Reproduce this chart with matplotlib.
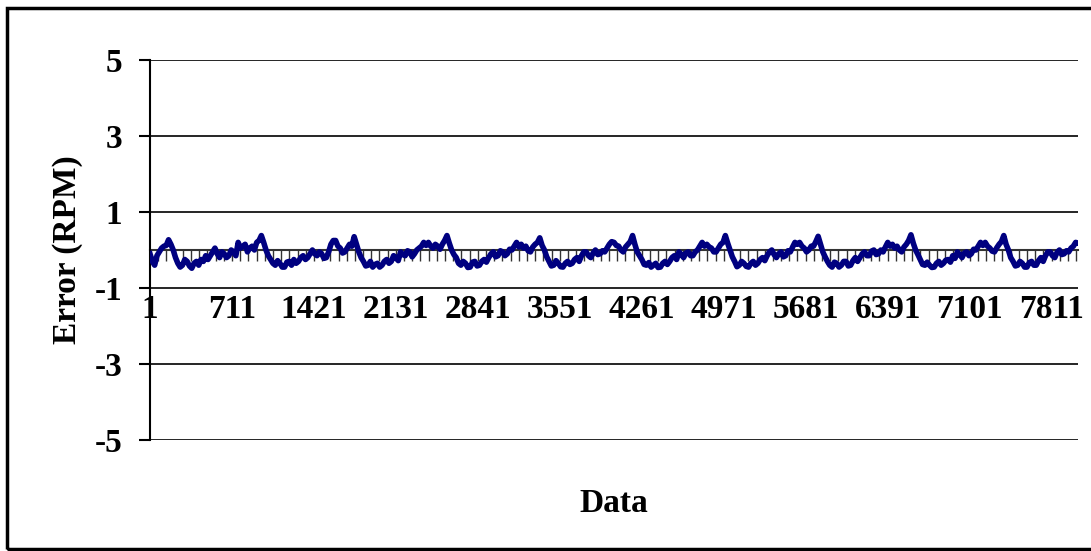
# -*- coding:utf-8 -*-
import numpy as np
import matplotlib
matplotlib.use('Agg')
import matplotlib.pyplot as plt
from matplotlib.patches import Rectangle

plt.rcParams['font.family'] = ['Liberation Serif', 'DejaVu Serif']
plt.rcParams['font.weight'] = 'bold'
plt.rcParams['axes.unicode_minus'] = False

n_points = 8040
# error (RPM), one value every ~20 samples, 10 cycles
err_p1 = [-0.10, -0.30, -0.40, -0.15, -0.05, 0.05, 0.10, 0.12, 0.27, 0.15,
          0.00, -0.20, -0.35, -0.45, -0.40, -0.25, -0.30, -0.42, -0.48, -0.35,
          -0.30, -0.40, -0.25, -0.30, -0.15, -0.25, -0.15, -0.05, 0.05, -0.10,
          -0.20, -0.05, -0.10, -0.20, -0.15, 0.00, -0.05, -0.15, 0.20, 0.05]
err_p2 = [0.10, 0.15, -0.05, 0.05, 0.10, 0.00, 0.20, 0.25, 0.38, 0.20,
          0.00, -0.15, -0.25, -0.35, -0.40, -0.28, -0.35, -0.45, -0.45, -0.32,
          -0.30, -0.40, -0.25, -0.35, -0.30, -0.20, -0.15, -0.25, -0.20, -0.10,
          0.00, -0.10, -0.15, -0.05, -0.10, -0.22, -0.20, -0.05, 0.15, 0.25]
err_p3 = [0.25, 0.10, 0.05, -0.08, -0.05, 0.05, 0.15, 0.10, 0.35, 0.15,
          -0.05, -0.20, -0.30, -0.42, -0.40, -0.30, -0.45, -0.38, -0.35, -0.45,
          -0.40, -0.30, -0.25, -0.35, -0.30, -0.15, -0.20, -0.28, -0.05, -0.12,
          -0.15, -0.02, -0.05, -0.18, -0.10, 0.00, 0.05, 0.10, 0.20, 0.12]
err_p4 = [0.20, 0.10, 0.05, 0.15, 0.10, 0.02, 0.15, 0.25, 0.38, 0.18,
          0.00, -0.12, -0.20, -0.35, -0.40, -0.30, -0.35, -0.46, -0.45, -0.32,
          -0.30, -0.42, -0.40, -0.30, -0.25, -0.32, -0.20, -0.10, -0.05, -0.18,
          -0.15, -0.02, -0.05, -0.15, -0.10, 0.02, 0.00, 0.10, 0.20, 0.08]
err_p5 = [0.15, 0.05, 0.10, -0.02, -0.05, 0.08, 0.15, 0.20, 0.32, 0.12,
          0.00, -0.18, -0.30, -0.42, -0.40, -0.28, -0.35, -0.44, -0.45, -0.35,
          -0.30, -0.38, -0.35, -0.25, -0.20, -0.30, -0.15, -0.05, -0.05, -0.15,
          -0.20, -0.08, 0.00, -0.12, -0.10, -0.02, -0.05, 0.05, 0.15, 0.22]
err_p6 = [0.20, 0.12, 0.10, 0.00, -0.05, 0.08, 0.15, 0.22, 0.38, 0.15,
          -0.05, -0.15, -0.25, -0.38, -0.40, -0.33, -0.45, -0.40, -0.35, -0.46,
          -0.45, -0.35, -0.30, -0.38, -0.30, -0.20, -0.15, -0.25, -0.05, -0.12,
          -0.20, -0.08, -0.05, -0.15, -0.15, -0.05, 0.00, 0.10, 0.20, 0.10]
err_p7 = [0.15, 0.08, 0.05, -0.05, -0.05, 0.05, 0.15, 0.20, 0.38, 0.18,
          0.00, -0.18, -0.30, -0.44, -0.40, -0.30, -0.35, -0.43, -0.45, -0.35,
          -0.30, -0.40, -0.35, -0.25, -0.20, -0.28, -0.15, -0.05, 0.00, -0.12,
          -0.20, -0.10, -0.05, -0.18, -0.15, -0.02, -0.05, 0.08, 0.20, 0.15]
err_p8 = [0.20, 0.10, 0.05, -0.05, 0.00, 0.10, 0.10, 0.22, 0.36, 0.15,
          -0.05, -0.18, -0.30, -0.40, -0.45, -0.32, -0.35, -0.45, -0.40, -0.30,
          -0.30, -0.42, -0.40, -0.28, -0.20, -0.30, -0.20, -0.10, -0.05, -0.15,
          -0.15, -0.03, 0.00, -0.12, -0.10, 0.00, -0.05, 0.08, 0.20, 0.10]
err_p9 = [0.15, 0.05, 0.10, 0.00, -0.05, 0.08, 0.15, 0.25, 0.40, 0.18,
          0.00, -0.12, -0.25, -0.38, -0.40, -0.32, -0.40, -0.46, -0.45, -0.35,
          -0.30, -0.40, -0.35, -0.27, -0.25, -0.32, -0.15, -0.22, -0.05, -0.12,
          -0.20, -0.08, -0.05, -0.15, -0.10, 0.02, 0.00, 0.10, 0.20, 0.12]
err_p10 = [0.20, 0.10, 0.05, -0.03, -0.05, 0.06, 0.15, 0.22, 0.38, 0.15,
           0.00, -0.20, -0.30, -0.42, -0.40, -0.30, -0.35, -0.45, -0.45, -0.33,
           -0.30, -0.40, -0.40, -0.28, -0.20, -0.30, -0.15, -0.05, -0.05, -0.15,
           -0.20, -0.06, 0.00, -0.12, -0.10, -0.02, -0.05, 0.05, 0.10, 0.20]
err_end = [0.18]

y_ticks = [5, 3, 1, -1, -3, -5]
x_labels = [1, 711, 1421, 2131, 2841, 3551, 4261, 4971, 5681, 6391, 7101, 7811]

err = np.array(err_p1 + err_p2 + err_p3 + err_p4 + err_p5 + err_p6 + err_p7
               + err_p8 + err_p9 + err_p10 + err_end)
idx = np.linspace(1, n_points, len(err))

fig = plt.figure(figsize=(10.91, 5.51), dpi=100)
ax = fig.add_axes([150/1091, 1-440/551, 928/1091, 380/551])

ax.set_ylim(-5, 5)
ax.set_xlim(1, n_points)
ax.set_yticks(y_ticks)
ax.yaxis.grid(True, color='black', linewidth=1.2)
ax.set_axisbelow(True)

ax.plot(idx, err, color='#000080', linewidth=4, zorder=3)

# horizontal axis crosses at zero
ax.spines['top'].set_visible(False)
ax.spines['right'].set_visible(False)
ax.spines['bottom'].set_position(('data', 0))
ax.spines['bottom'].set_color('#333333')
ax.spines['bottom'].set_linewidth(1.5)
ax.spines['bottom'].set_zorder(2)
ax.spines['left'].set_linewidth(1.5)
ax.set_xticks(x_labels)
ax.set_xticks(np.arange(1, n_points, 71), minor=True)
ax.tick_params(axis='x', which='both', direction='out', length=8, width=1,
               color='#333333', pad=24, labelsize=24)
ax.tick_params(axis='y', direction='out', length=8, width=1.5, pad=12,
               labelsize=24)
for t in ax.get_xticklabels() + ax.get_yticklabels():
    t.set_fontweight('bold')

ax.set_ylabel('Error (RPM)', fontsize=24, fontweight='bold', labelpad=8)
fig.text(614/1091, 1-503/551, 'Data', fontsize=24, fontweight='bold',
         ha='center', va='center')

fig.patches.append(Rectangle((7/1091, 2/551), 1.0, 1-10/551,
                             transform=fig.transFigure, fill=False,
                             edgecolor='black', linewidth=2.5))

fig.savefig('out.png', dpi=100)
